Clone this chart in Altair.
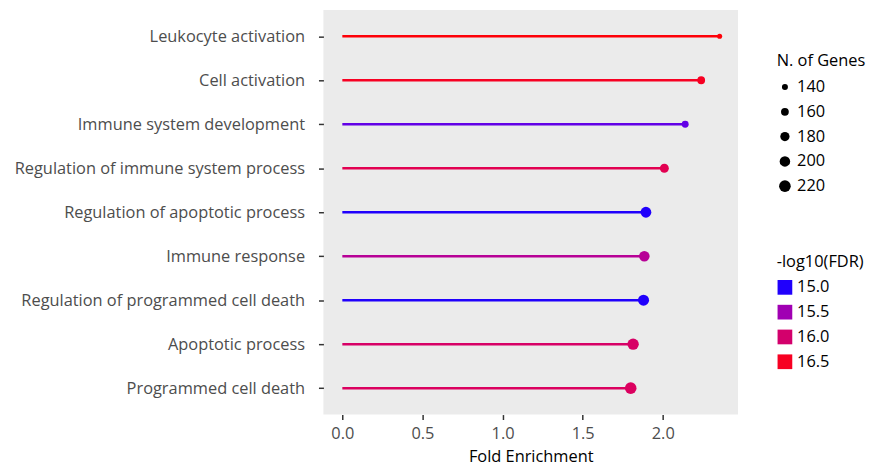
import altair as alt
import pandas as pd

terms = [
    "Leukocyte activation",
    "Cell activation",
    "Immune system development",
    "Regulation of immune system process",
    "Regulation of apoptotic process",
    "Immune response",
    "Regulation of programmed cell death",
    "Apoptotic process",
    "Programmed cell death",
]
fold_enrichment = [2.355, 2.24, 2.14, 2.01, 1.895, 1.885, 1.88, 1.815, 1.80]
n_genes = [132, 160, 150, 175, 205, 200, 210, 215, 220]
neg_log10_fdr = [16.6, 16.5, 15.15, 16.2, 15.0, 15.7, 15.0, 16.05, 16.1]
x_ticks = [0.0, 0.5, 1.0, 1.5, 2.0]
size_legend_values = [140, 160, 180, 200, 220]
color_legend_values = [15.0, 15.5, 16.0, 16.5]

df = pd.DataFrame({
    "term": terms,
    "fe": fold_enrichment,
    "start": [0.0] * len(terms),
    "genes": n_genes,
    "fdr": neg_log10_fdr,
})

FONT = "Open Sans"
FS = 16.5

y_enc = alt.Y("term:N", sort=terms, title=None,
              scale=alt.Scale(type="point", padding=0.6),
              axis=alt.Axis(labelFontSize=FS, labelColor="#4D4D4D", labelFont=FONT, labelLimit=0,
                            tickColor="#333333", tickSize=5, tickWidth=1.5,
                            labelPadding=14, domain=False, grid=False))
x_scale = alt.Scale(domain=[-0.118, 2.47], nice=False, zero=False)
color_scale = alt.Scale(domain=[14.98, 16.62], range=["#0000FF", "#FF0000"], interpolate="lab")

rules = alt.Chart(df).mark_rule(strokeWidth=2.5).encode(
    x=alt.X("start:Q", scale=x_scale, title="Fold Enrichment",
            axis=alt.Axis(values=x_ticks, format=".1f", labelFontSize=FS, labelColor="#4D4D4D",
                          labelFont=FONT, titleFont=FONT, titleFontSize=FS, titleFontWeight="normal",
                          titleColor="#000000", tickColor="#333333", tickSize=5, tickWidth=1.5,
                          domain=False, grid=False, labelPadding=6, titlePadding=7)),
    x2="fe:Q",
    y=y_enc,
    color=alt.Color("fdr:Q", scale=color_scale, title="-log10(FDR)",
                    legend=alt.Legend(type="symbol", values=color_legend_values, format=".1f",
                                      symbolType="square", symbolSize=220, symbolStrokeWidth=0,
                                      orient="none", legendX=457, legendY=246)),
)

points = alt.Chart(df).mark_circle(opacity=1).encode(
    x=alt.X("fe:Q", scale=x_scale),
    y=alt.Y("term:N", sort=terms),
    color=alt.Color("fdr:Q", scale=color_scale, legend=None),
    size=alt.Size("genes:Q", title="N. of Genes",
                  scale=alt.Scale(domain=[130, 222], range=[24, 140], zero=False),
                  legend=alt.Legend(values=size_legend_values, symbolFillColor="black",
                                    symbolStrokeWidth=0, orient="none", legendX=457, legendY=44)),
)

chart = alt.layer(rules, points).properties(
    width=418, height=408,
    padding={"left": 6, "top": 0, "right": 0, "bottom": 5},
).configure_view(fill="#EBEBEB", stroke=None).configure_legend(
    titleFont=FONT, titleFontSize=FS, titleFontWeight="normal", titleColor="#000000",
    labelFont=FONT, labelFontSize=FS, labelColor="#000000", rowPadding=8, titlePadding=9,
).configure_axis(labelFont=FONT)

chart.save("out.html", embed_options={"renderer": "svg", "actions": False})
